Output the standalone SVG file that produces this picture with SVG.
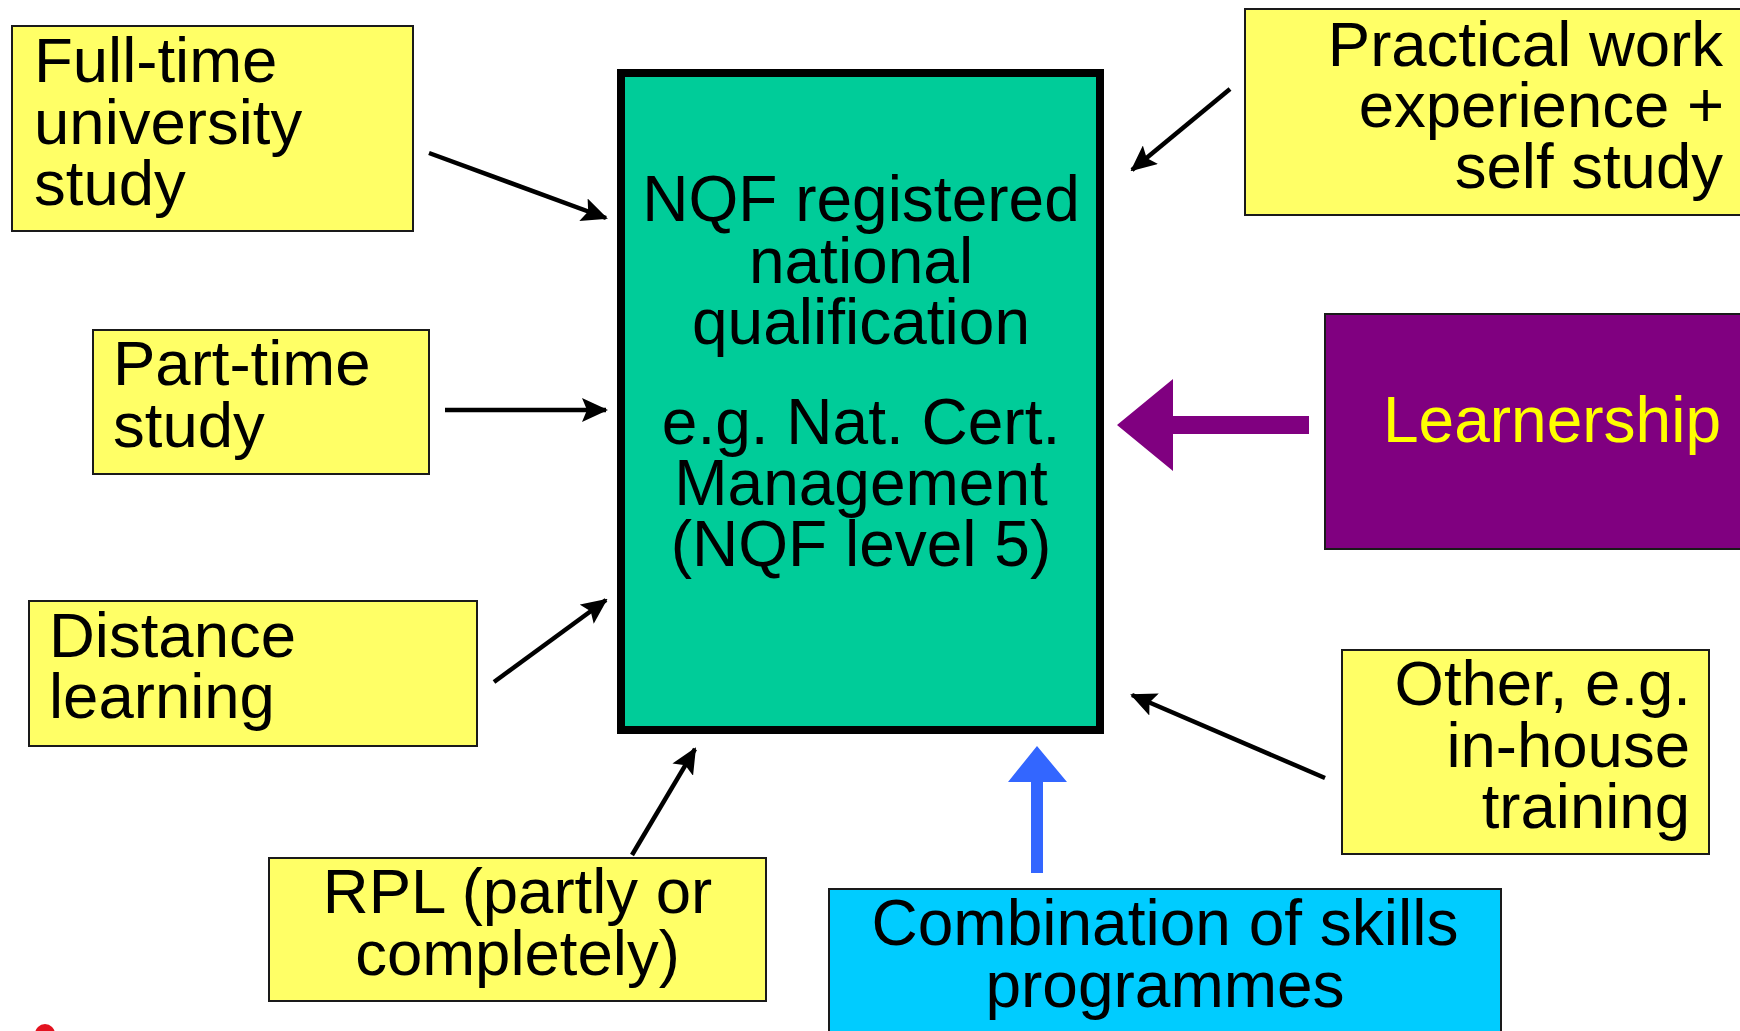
<svg xmlns="http://www.w3.org/2000/svg" width="1740" height="1031" viewBox="0 0 1740 1031">
  <style>
    .box { fill: #FFFF66; stroke: #1a1a1a; stroke-width: 2; }
    .txt { font-family: "Liberation Sans", Arial, sans-serif; font-size: 63.5px; fill: #000; }
    .big { font-size: 64px; }
    .mid { text-anchor: middle; }
    .end { text-anchor: end; }
    .conn { stroke: #000; stroke-width: 4.5; fill: none; marker-end: url(#head); }
  </style>
  <defs>
    <marker id="head" markerUnits="userSpaceOnUse" markerWidth="26" markerHeight="24" viewBox="0 0 26 24" refX="24" refY="12" orient="auto">
      <path d="M0,0 L26,12 L0,24 L5,12 Z" fill="#000"/>
    </marker>
  </defs>

  <rect width="1740" height="1031" fill="#fff"/>

  <!-- central qualification -->
  <g id="qualification">
    <rect x="621" y="73" width="479" height="657" fill="#00CC99" stroke="#000" stroke-width="8"/>
    <text class="txt big mid" x="861" y="221">NQF registered</text>
    <text class="txt big mid" x="861" y="283">national</text>
    <text class="txt big mid" x="861" y="344">qualification</text>
    <text class="txt big mid" x="861" y="444">e.g. Nat. Cert.</text>
    <text class="txt big mid" x="861" y="505">Management</text>
    <text class="txt big mid" x="861" y="566">(NQF level 5)</text>
  </g>

  <g id="full-time">
    <rect class="box" x="12" y="26" width="401" height="205"/>
    <text class="txt" x="34" y="82">Full-time</text>
    <text class="txt" x="34" y="144">university</text>
    <text class="txt" x="34" y="205">study</text>
  </g>

  <g id="part-time">
    <rect class="box" x="93" y="330" width="336" height="144"/>
    <text class="txt" x="113" y="385">Part-time</text>
    <text class="txt" x="113" y="447">study</text>
  </g>

  <g id="distance">
    <rect class="box" x="29" y="601" width="448" height="145"/>
    <text class="txt" x="49" y="657">Distance</text>
    <text class="txt" x="49" y="718">learning</text>
  </g>

  <g id="rpl">
    <rect class="box" x="269" y="858" width="497" height="143"/>
    <text class="txt mid" x="517.5" y="913">RPL (partly or</text>
    <text class="txt mid" x="517.5" y="975">completely)</text>
  </g>

  <g id="skills">
    <rect x="829" y="889" width="672" height="160" fill="#00CCFF" stroke="#1a1a1a" stroke-width="2"/>
    <text class="txt big mid" x="1165" y="945">Combination of skills</text>
    <text class="txt big mid" x="1165" y="1007">programmes</text>
  </g>

  <g id="other">
    <rect class="box" x="1342" y="650" width="367" height="204"/>
    <text class="txt end" x="1691" y="705">Other, e.g.</text>
    <text class="txt end" x="1690" y="767">in-house</text>
    <text class="txt end" x="1690" y="828">training</text>
  </g>

  <g id="practical">
    <rect class="box" x="1245" y="9" width="510" height="206"/>
    <text class="txt end" x="1723" y="66">Practical work</text>
    <text class="txt end" x="1724" y="127">experience +</text>
    <text class="txt end" x="1723" y="188">self study</text>
  </g>

  <g id="learnership">
    <rect x="1325" y="314" width="430" height="235" fill="#800080" stroke="#1a1a1a" stroke-width="2"/>
    <text class="txt big" x="1383" y="442" style="fill:#FFFF00">Learnership</text>
  </g>

  <!-- connectors -->
  <g id="connectors">
    <line class="conn" x1="429" y1="153" x2="606" y2="218"/>
    <line class="conn" x1="445" y1="410" x2="606" y2="410"/>
    <line class="conn" x1="494" y1="682" x2="606" y2="600"/>
    <line class="conn" x1="632" y1="855" x2="695" y2="749"/>
    <line class="conn" x1="1230" y1="89" x2="1132" y2="170"/>
    <line class="conn" x1="1325" y1="778" x2="1132" y2="695"/>
    <polygon points="1117,425 1173,379 1173,416 1309,416 1309,434 1173,434 1173,471" fill="#800080"/>
    <polygon points="1037,746 1067,782 1043,782 1043,873 1031,873 1031,782 1008,782" fill="#3366FF"/>
  </g>

  <circle cx="45" cy="1034" r="10" fill="#E3121F"/>
</svg>
